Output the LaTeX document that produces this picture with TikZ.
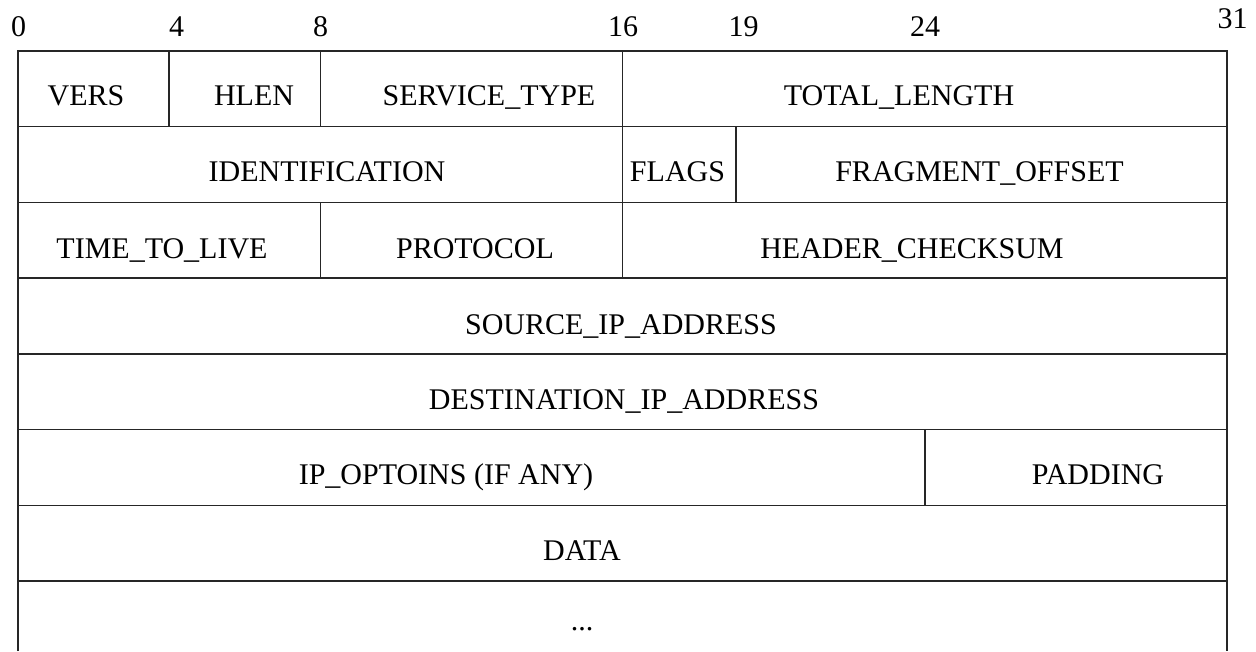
\documentclass[tikz,border=0pt]{standalone}
\usepackage{fontspec}
\setmainfont{Liberation Serif}
\tikzset{
  field/.style={anchor=base,inner sep=0pt,font=\fontsize{30}{36}\selectfont},
  bitnum/.style={anchor=base,inner sep=0pt,font=\fontsize{30}{36}\selectfont},
  rule/.style={line width=1.3pt,draw=black!85}
}
\begin{document}
\begin{tikzpicture}[x=1pt,y=-1pt]
\useasboundingbox (0,0) rectangle (1256,651);
% frame and rows
\draw[rule] (18,651) -- (18,51) -- (1227,51) -- (1227,651);
\foreach \r in {126.7,202.4,278.1,353.9,429.6,505.3,581.0}
    \draw[rule] (18,\r) -- (1227,\r);
% field borders
\draw[rule] (169.1,51) -- (169.1,126.7);
\draw[rule] (320.3,51) -- (320.3,126.7);
\draw[rule] (622.6,51) -- (622.6,278.1);
\draw[rule] (736,126.7) -- (736,202.4);
\draw[rule] (320.3,202.4) -- (320.3,278.1);
\draw[rule] (925,429.6) -- (925,505.3);

% bit numbers
    \node[bitnum] (b0) at (18.5,36.5) {0};
    \node[bitnum] (b4) at (176.5,36.5) {4};
    \node[bitnum] (b8) at (320.5,36.5) {8};
    \node[bitnum] (b16) at (623,36.5) {16};
    \node[bitnum] (b19) at (743.5,36.5) {19};
    \node[bitnum] (b24) at (925,36.5) {24};
    \node[bitnum] (b31) at (1232.5,28) {31};

% fields
    \node[field] (vers) at (86,105) {VERS};
    \node[field] (hlen) at (254,105) {HLEN};
    \node[field] (svc) at (489,105) {SERVICE\_TYPE};
    \node[field] (tlen) at (899,105) {TOTAL\_LENGTH};

    \node[field] (ident) at (327,181.5) {IDENTIFICATION};
    \node[field] (flags) at (677.5,181.5) {FLAGS};
    \node[field] (frag) at (979.5,181.5) {FRAGMENT\_OFFSET};

    \node[field] (ttl) at (162,258) {TIME\_TO\_LIVE};
    \node[field] (proto) at (475,258) {PROTOCOL};
    \node[field] (hcs) at (912,258) {HEADER\_CHECKSUM};

    \node[field] (src) at (621,334) {SOURCE\_IP\_ADDRESS};

    \node[field] (dst) at (624,409.5) {DESTINATION\_IP\_ADDRESS};

    \node[field] (opts) at (446,484.5) {IP\_OPTOINS (IF ANY)};
    \node[field] (pad) at (1098,484.5) {PADDING};

    \node[field] (data) at (582,560.3) {DATA};

    \node[field] (more) at (582,630) {...};
\end{tikzpicture}
\end{document}
